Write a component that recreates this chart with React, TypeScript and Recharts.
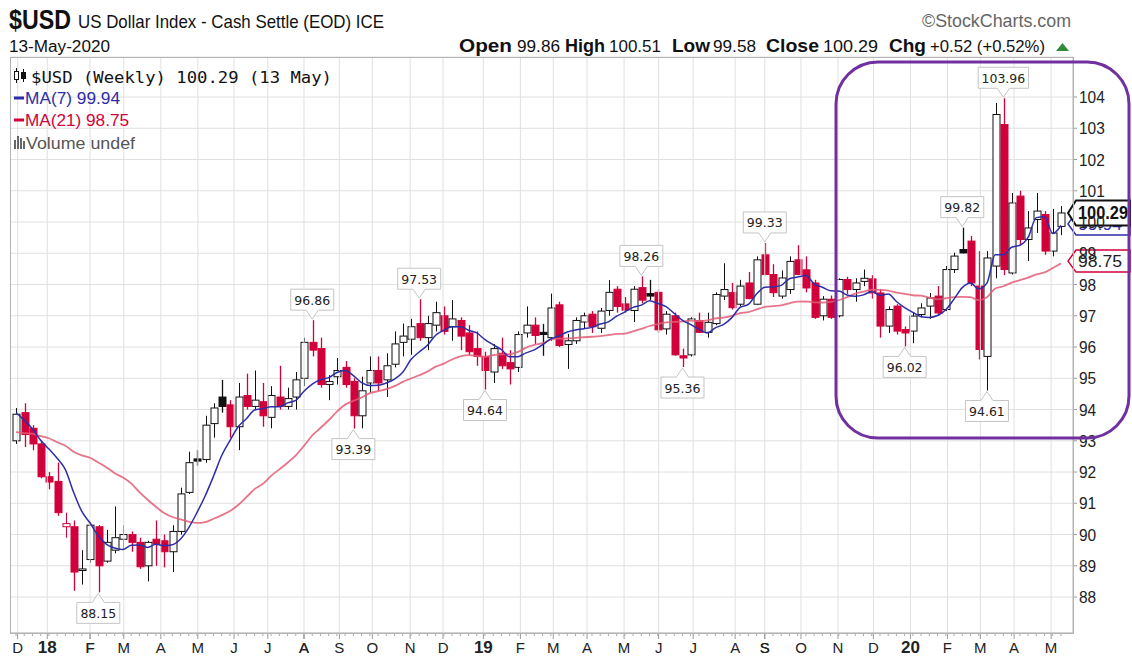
import React from 'react';
import {
  ComposedChart,
  Bar,
  Line,
  XAxis,
  YAxis,
  CartesianGrid,
  ReferenceLine,
  ReferenceDot,
} from 'recharts';

// Weekly $USD candles, first week = 4 Dec 2017, last week = 11 May 2020 (index 0..127)
const opens = [
  93.0, 93.9, 93.4, 92.9, 91.85, 91.7, 90.25, 90.25, 88.85, 89.2, 90.25, 89.15, 89.5, 89.85, 90.0, 89.75,
  89.0, 89.85, 89.8, 89.45, 90.1, 91.35, 92.42, 92.4, 93.55, 94.4, 94.15, 93.45, 94.45, 94.1, 94.25, 93.75,
  94.4, 94.1, 94.4, 95.0, 96.15, 95.95, 94.8, 95.05, 95.35, 94.9, 93.8, 94.85, 95.25, 94.95, 95.45, 96.15,
  96.25, 96.75, 96.3, 96.7, 97.0, 96.65, 96.85, 96.45, 95.95, 95.7, 95.2, 95.8, 95.5, 95.35, 96.45, 96.7,
  96.47, 96.3, 97.35, 96.08, 96.2, 96.8, 97.05, 96.6, 97.17, 97.85, 97.38, 97.17, 97.9, 97.71, 97.75, 96.58,
  97.0, 95.72, 95.75, 96.85, 96.47, 96.75, 97.63, 97.74, 97.37, 98.05, 97.37, 98.95, 98.32, 97.63, 97.84, 98.79,
  98.47, 98.05, 97.0, 97.53, 97.0, 98.16, 97.84, 98.1, 98.18, 97.73, 96.67, 97.31, 96.56, 96.51, 97.04, 97.31,
  97.63, 97.2, 98.48, 99.12, 99.39, 97.95, 95.7, 98.59, 103.12, 98.37, 100.83, 99.44, 100.08, 100.24, 99.07, 99.86,
];
const highs = [
  94.05, 94.2, 93.5, 93.0, 92.0, 92.3, 90.7, 90.45, 89.5, 90.4, 90.3, 90.15, 90.9, 90.3, 90.1, 89.9,
  89.8, 90.45, 90.0, 90.3, 91.5, 92.65, 92.7, 93.8, 94.2, 94.95, 94.3, 94.85, 95.15, 95.25, 94.85, 94.75,
  95.4, 94.7, 95.2, 96.3, 96.86, 96.3, 95.1, 95.65, 95.55, 95.0, 95.05, 95.7, 95.7, 95.8, 96.5, 96.75,
  96.9, 97.53, 97.0, 97.45, 97.3, 97.5, 96.95, 96.7, 96.5, 95.85, 96.1, 96.3, 95.9, 96.5, 97.3, 96.95,
  96.74, 97.71, 97.45, 96.42, 96.95, 97.1, 97.15, 97.25, 98.14, 97.95, 97.6, 97.95, 98.26, 98.15, 97.85, 97.15,
  97.1, 95.95, 96.95, 97.1, 97.1, 97.75, 98.68, 98.05, 98.15, 98.4, 98.9, 99.33, 98.65, 98.45, 98.9, 99.26,
  98.9, 98.15, 97.63, 97.65, 98.2, 98.25, 98.2, 98.48, 98.3, 97.85, 97.3, 97.37, 96.66, 97.1, 97.4, 97.73,
  97.95, 98.59, 99.02, 99.82, 99.55, 99.07, 99.07, 103.81, 103.96, 100.93, 101.0, 100.35, 100.93, 100.35, 100.42, 100.51,
];
const lows = [
  92.9, 92.8, 92.7, 91.8, 91.45, 90.6, 89.9, 88.2, 88.4, 89.1, 88.15, 89.1, 89.4, 89.5, 89.45, 88.9,
  88.5, 89.0, 88.95, 88.8, 90.0, 91.3, 92.2, 92.3, 93.1, 93.9, 93.1, 92.7, 94.0, 94.0, 93.45, 93.4,
  94.0, 94.0, 94.0, 94.75, 95.7, 94.7, 94.3, 94.8, 94.7, 93.39, 93.4, 94.55, 94.6, 94.4, 95.35, 95.7,
  95.75, 96.2, 95.9, 96.5, 96.4, 96.2, 95.9, 95.75, 95.4, 94.64, 94.85, 95.3, 94.8, 95.2, 96.3, 96.1,
  95.72, 96.2, 96.0, 95.3, 96.1, 96.6, 96.45, 96.45, 97.0, 97.1, 97.1, 96.8, 97.4, 97.5, 96.45, 96.4,
  95.72, 95.36, 95.7, 96.45, 96.3, 96.7, 97.5, 97.2, 97.3, 97.53, 97.35, 98.3, 97.6, 97.55, 97.7, 98.3,
  97.75, 96.9, 96.85, 96.9, 96.95, 97.7, 97.45, 97.95, 97.55, 96.3, 96.45, 96.4, 96.02, 96.12, 96.95, 96.9,
  97.0, 97.15, 98.37, 99.0, 97.95, 95.6, 94.61, 98.2, 98.3, 98.32, 99.25, 98.75, 99.65, 98.95, 98.9, 99.58,
];
const closes = [
  93.85, 93.2, 92.9, 91.85, 91.68, 90.7, 90.35, 88.8, 88.9, 90.3, 89.0, 89.75, 89.9, 90.0, 89.75, 88.97,
  89.75, 89.7, 89.45, 90.1, 91.3, 92.3, 92.35, 93.5, 94.05, 94.1, 93.45, 94.4, 94.1, 94.3, 93.8, 94.45,
  94.1, 94.35, 94.95, 96.15, 95.9, 94.8, 94.9, 95.25, 94.8, 93.8, 94.6, 95.25, 94.85, 95.4, 96.1, 96.35,
  96.65, 96.3, 96.75, 97.1, 96.5, 96.9, 96.35, 95.85, 95.7, 95.25, 95.95, 95.4, 95.3, 96.4, 96.7, 96.37,
  96.4, 97.25, 96.05, 96.2, 96.85, 97.0, 96.65, 97.15, 97.75, 97.3, 97.18, 97.85, 97.5, 97.63, 96.55, 97.05,
  95.75, 95.65, 96.9, 96.47, 96.79, 97.68, 97.84, 97.26, 97.95, 97.55, 98.79, 98.32, 97.74, 98.21, 98.74, 98.32,
  97.89, 96.95, 97.53, 96.95, 98.16, 97.84, 98.05, 98.2, 97.73, 96.67, 97.2, 96.51, 96.45, 96.99, 97.25, 97.57,
  97.09, 98.48, 98.91, 99.01, 98.05, 95.92, 98.85, 103.44, 98.48, 100.61, 99.44, 99.81, 100.35, 99.07, 99.65, 100.29,
];
// closes of the 20 weeks before the first candle (needed for the 21-week average)
const priorCloses = [
  93.86, 93.25, 93.54, 93.06, 93.42, 92.67, 92.86, 91.33, 91.87, 92.17,
  93.07, 93.82, 92.93, 93.67, 94.85, 94.87, 94.39, 93.65, 92.78, 92.89,
];

// month ticks (position in weeks) and their labels
const monthPos = [
  0.2, 3.8, 9.0, 13.1, 17.6, 22.1, 26.5, 30.6, 35.0, 39.3, 43.3, 47.9, 51.9, 56.8, 61.3,
  65.3, 69.4, 73.9, 78.1, 82.3, 87.4, 91.0, 95.4, 99.9, 104.2, 108.7, 113.2, 117.2, 121.3, 125.8,
];
const monthLabels = [
  'D', '18', 'F', 'M', 'A', 'M', 'J', 'J', 'A', 'S', 'O', 'N', 'D', '19', 'F',
  'M', 'A', 'M', 'J', 'J', 'A', 'S', 'O', 'N', 'D', '20', 'F', 'M', 'A', 'M',
];
const yTicks = [88, 89, 90, 91, 92, 93, 94, 95, 96, 97, 98, 99, 100, 101, 102, 103, 104];

// high / low callouts
const calloutIdx = [10, 36, 41, 49, 57, 76, 81, 91, 108, 115, 118, 120];
const calloutVal = [88.15, 96.86, 93.39, 97.53, 94.64, 98.26, 95.36, 99.33, 96.02, 99.82, 94.61, 103.96];
const calloutSide = ['low', 'high', 'low', 'high', 'low', 'high', 'low', 'high', 'low', 'high', 'low', 'high'];

const RED = '#d2003a';
const BLUE = '#2d2da8';
const MA_RED = '#e45c75';
const GRID = '#e0e0e0';
const FRAME = '#b4b4b4';

const W = 1132;
const H = 657;
const Y_AXIS_W = 59;
const X_AXIS_H = 24;
const MARGIN = { top: 57, left: 10, right: 0, bottom: 0 };
const PLOT_R = W - Y_AXIS_W;
const PLOT_B = H - X_AXIS_H;
const X_MIN = -0.73;
const X_MAX = 128.46;

const allCloses = [...priorCloses, ...closes];
const movAvg = (n: number, i: number) => {
  const end = priorCloses.length + i;
  let s = 0;
  for (let k = end - n + 1; k <= end; k++) s += allCloses[k];
  return s / n;
};

const data = closes.map((c, i) => ({
  idx: i,
  open: opens[i],
  high: highs[i],
  low: lows[i],
  close: c,
  prevClose: i === 0 ? priorCloses[priorCloses.length - 1] : closes[i - 1],
  ma7: movAvg(7, i),
  ma21: movAvg(21, i),
}));

const weekTicks = [...closes.map((_, i) => i), ...monthPos].sort((a, b) => a - b);

const NARROW = '"Liberation Sans Narrow", "Liberation Sans", Arial, sans-serif';
const SANS = '"Liberation Sans", Arial, sans-serif';

const Candle = (props: any) => {
  const { x, y, width, height, payload } = props;
  if (!payload || height == null) return null;
  const { open, close, high, low, prevClose } = payload;
  const ratio = high > low ? height / (high - low) : 0;
  const yOf = (v: number) => y + (high - v) * ratio;
  const color = close >= prevClose ? '#111' : RED;
  const hollow = close >= open;
  const top = yOf(Math.max(open, close));
  const bot = yOf(Math.min(open, close));
  const cx = Math.round(x + width / 2) + 0.5;
  return (
    <g>
      <line x1={cx} x2={cx} y1={y} y2={y + height} stroke={color} strokeWidth={hollow ? 1 : 1.3} />
      <rect
        x={cx - 3.5}
        y={top}
        width={7}
        height={Math.max(1.2, bot - top)}
        fill={hollow ? '#fff' : color}
        stroke={color}
        strokeWidth={1}
      />
    </g>
  );
};

const AxisTick = (props: any) => {
  const { x, y, payload } = props;
  const v = payload?.value;
  const mi = monthPos.indexOf(v);
  if (mi < 0) {
    return <line x1={x} x2={x} y1={y} y2={y + 3} stroke="#aaa" />;
  }
  const lab = monthLabels[mi];
  const isYear = /\d/.test(lab);
  return (
    <g>
      <line x1={x} x2={x} y1={y} y2={y + 6} stroke="#999" />
      <text
        x={x}
        y={y + 20}
        textAnchor="middle"
        fontFamily={NARROW}
        fontSize={isYear ? 17 : 15}
        fontWeight={isYear ? 700 : 400}
        fill="#222"
      >
        {lab}
      </text>
    </g>
  );
};

const YTick = (props: any) => {
  const { x, y, payload } = props;
  const s = String(payload?.value ?? '');
  return (
    <text
      x={x}
      y={y + 6}
      fontFamily={NARROW}
      fontSize={17}
      fill="#222"
      textLength={s.length * 8.6}
      lengthAdjust="spacingAndGlyphs"
    >
      {s}
    </text>
  );
};

const Callout = ({ cx, cy, label, side }: { cx?: number; cy?: number; label: string; side: string }) => {
  if (cx == null || cy == null) return null;
  const bw = label.length * 7.4 + 6;
  const bh = 21;
  const ph = 9;
  const x0 = cx - bw / 2;
  const x1 = cx + bw / 2;
  let d: string;
  let textY: number;
  if (side === 'high') {
    const tip = cy - 1;
    const bB = tip - ph;
    const bT = bB - bh;
    d = `M${x0},${bT} H${x1} V${bB} H${cx + 6} L${cx},${tip} L${cx - 6},${bB} H${x0} Z`;
    textY = bT + 15.5;
  } else {
    const tip = cy + 1;
    const bT = tip + ph;
    const bB = bT + bh;
    d = `M${x0},${bT} H${cx - 6} L${cx},${tip} L${cx + 6},${bT} H${x1} V${bB} H${x0} Z`;
    textY = bT + 15.5;
  }
  return (
    <g>
      <path d={d} fill="#fff" stroke="#c4c4c4" strokeWidth={1} />
      <text x={cx} y={textY} textAnchor="middle" fontFamily='"DejaVu Sans", Verdana, sans-serif' fontSize={12.5} fill="#222">
        {label}
      </text>
    </g>
  );
};

const ValueTag = ({
  cx,
  cy,
  label,
  stroke,
  textColor,
  bold,
}: {
  cx?: number;
  cy?: number;
  label: string;
  stroke: string;
  textColor: string;
  bold?: boolean;
}) => {
  if (cx == null || cy == null) return null;
  const tip = cx - 5;
  const right = W - 2;
  const h = bold ? 25 : 22;
  const d = `M${tip},${cy} L${tip + 8},${cy - h / 2} H${right} V${cy + h / 2} H${tip + 8} Z`;
  return (
    <g>
      <path d={d} fill="#fff" stroke={stroke} strokeWidth={bold ? 2 : 1.5} />
      <text
        x={tip + 10}
        y={cy + (bold ? 6.5 : 6)}
        fontFamily={SANS}
        fontSize={bold ? 18 : 16}
        fontWeight={bold ? 700 : 400}
        fill={textColor}
        textLength={bold ? 50 : 44}
        lengthAdjust="spacingAndGlyphs"
      >
        {label}
      </text>
    </g>
  );
};

function Header() {
  const hdr = (x: number, w: number, t: string, bold = false) => (
    <text
      x={x}
      y={52}
      fontFamily={NARROW}
      fontSize={bold ? 18 : 16}
      fontWeight={bold ? 700 : 400}
      fill="#111"
      textLength={w}
      lengthAdjust="spacingAndGlyphs"
    >
      {t}
    </text>
  );
  return (
    <svg
      width={W}
      height={H}
      style={{ position: 'absolute', left: 0, top: 0, pointerEvents: 'none' }}
    >
      <text x={9} y={29} fontFamily={NARROW} fontSize={27} fontWeight={700} fill="#111" textLength={62} lengthAdjust="spacingAndGlyphs">
        $USD
      </text>
      <text x={78} y={28} fontFamily={NARROW} fontSize={19} fill="#111" textLength={306} lengthAdjust="spacingAndGlyphs">
        US Dollar Index - Cash Settle (EOD) ICE
      </text>
      <text x={922} y={27} fontFamily={NARROW} fontSize={18} fill="#666" textLength={149} lengthAdjust="spacingAndGlyphs">
        ©StockCharts.com
      </text>
      <text x={9} y={52} fontFamily={NARROW} fontSize={16} fill="#111" textLength={101} lengthAdjust="spacingAndGlyphs">
        13-May-2020
      </text>
      {hdr(459, 53, 'Open', true)}
      {hdr(517, 43, '99.86')}
      {hdr(565, 40, 'High', true)}
      {hdr(609, 52, '100.51')}
      {hdr(672, 38, 'Low', true)}
      {hdr(713, 43, '99.58')}
      {hdr(766, 53, 'Close', true)}
      {hdr(823, 55, '100.29')}
      {hdr(889, 37, 'Chg', true)}
      {hdr(930, 115, '+0.52 (+0.52%)')}
      <path d="M1056,51 L1069,51 L1062.5,43 Z" fill="#2f8a3a" />

      {/* plot frame */}
      <rect x={MARGIN.left + 0.5} y={MARGIN.top + 0.5} width={PLOT_R - MARGIN.left} height={PLOT_B - MARGIN.top} fill="none" stroke={FRAME} />

      {/* in-chart legend */}
      <g>
        <line x1={16.5} x2={16.5} y1={68} y2={83} stroke="#111" />
        <rect x={14.5} y={71.5} width={4} height={8} fill="#fff" stroke="#111" />
        <line x1={23.5} x2={23.5} y1={69} y2={82} stroke="#111" />
        <rect x={21.5} y={72.5} width={4} height={6} fill="#111" stroke="#111" />
      </g>
      <text x={31} y={83} fontFamily='"DejaVu Sans Mono", monospace' fontSize={16} fill="#111" textLength={301} lengthAdjust="spacingAndGlyphs">
        $USD (Weekly) 100.29 (13 May)
      </text>
      <line x1={14} x2={24} y1={98} y2={98} stroke={BLUE} strokeWidth={3} />
      <text x={25} y={104} fontFamily={NARROW} fontSize={16} fill={BLUE} textLength={95} lengthAdjust="spacingAndGlyphs">
        MA(7) 99.94
      </text>
      <line x1={14} x2={24} y1={120} y2={120} stroke={RED} strokeWidth={3} />
      <text x={25} y={126} fontFamily={NARROW} fontSize={16} fill={RED} textLength={104} lengthAdjust="spacingAndGlyphs">
        MA(21) 98.75
      </text>
      <g fill="#666">
        <rect x={14} y={140} width={2} height={9} />
        <rect x={17} y={136} width={2} height={13} />
        <rect x={20} y={138} width={2} height={11} />
        <rect x={23} y={141} width={2} height={8} />
      </g>
      <text x={26} y={149} fontFamily={NARROW} fontSize={16} fill="#555" textLength={109} lengthAdjust="spacingAndGlyphs">
        Volume undef
      </text>

      {/* highlighted region */}
      <rect x={836} y={62} width={293} height={376} rx={42} ry={42} fill="none" stroke="#7030a0" strokeWidth={3} />
    </svg>
  );
}

export default function App() {
  return (
    <div style={{ position: 'absolute', left: 0, top: 0, width: W, height: H, background: '#fff' }}>
      <ComposedChart width={W} height={H} data={data} margin={MARGIN}>
        <CartesianGrid vertical={false} stroke={GRID} />
        {monthPos.map((p) => (
          <ReferenceLine key={`g${p}`} x={p} stroke={GRID} strokeWidth={1} />
        ))}
        <XAxis
          dataKey="idx"
          type="number"
          domain={[X_MIN, X_MAX]}
          allowDataOverflow
          ticks={weekTicks}
          interval={0}
          tickSize={0}
          tickMargin={0}
          tickLine={false}
          tick={<AxisTick />}
          axisLine={{ stroke: FRAME }}
          height={X_AXIS_H}
        />
        <YAxis
          orientation="right"
          domain={[86.85, 105.28]}
          allowDataOverflow
          ticks={yTicks}
          interval={0}
          width={Y_AXIS_W}
          tickSize={4}
          tickMargin={2}
          tickLine={{ stroke: '#999' }}
          axisLine={{ stroke: FRAME }}
          tick={<YTick />}
        />
        <Bar
          dataKey={(d: any) => [d.low, d.high]}
          barSize={7}
          shape={<Candle />}
          isAnimationActive={false}
        />
        <Line type="monotone" dataKey="ma21" stroke={MA_RED} strokeWidth={1.8} dot={false} isAnimationActive={false} strokeOpacity={0.85} />
        <Line type="monotone" dataKey="ma7" stroke={BLUE} strokeWidth={1.5} dot={false} isAnimationActive={false} />
        {calloutIdx.map((ix, k) => (
          <ReferenceDot
            key={`c${k}`}
            x={ix}
            y={calloutVal[k]}
            r={0}
            ifOverflow="visible"
            shape={(p: any) => <Callout cx={p.cx} cy={p.cy} label={calloutVal[k].toFixed(2)} side={calloutSide[k]} />}
          />
        ))}
        <ReferenceDot
          x={X_MAX}
          y={99.94}
          r={0}
          ifOverflow="visible"
          shape={(p: any) => <ValueTag cx={p.cx} cy={p.cy} label="99.94" stroke={BLUE} textColor={BLUE} />}
        />
        <ReferenceDot
          x={X_MAX}
          y={100.29}
          r={0}
          ifOverflow="visible"
          shape={(p: any) => <ValueTag cx={p.cx} cy={p.cy} label="100.29" stroke="#111" textColor="#111" bold />}
        />
        <ReferenceDot
          x={X_MAX}
          y={98.75}
          r={0}
          ifOverflow="visible"
          shape={(p: any) => <ValueTag cx={p.cx} cy={p.cy} label="98.75" stroke={RED} textColor="#222" />}
        />
      </ComposedChart>
      <Header />
    </div>
  );
}
